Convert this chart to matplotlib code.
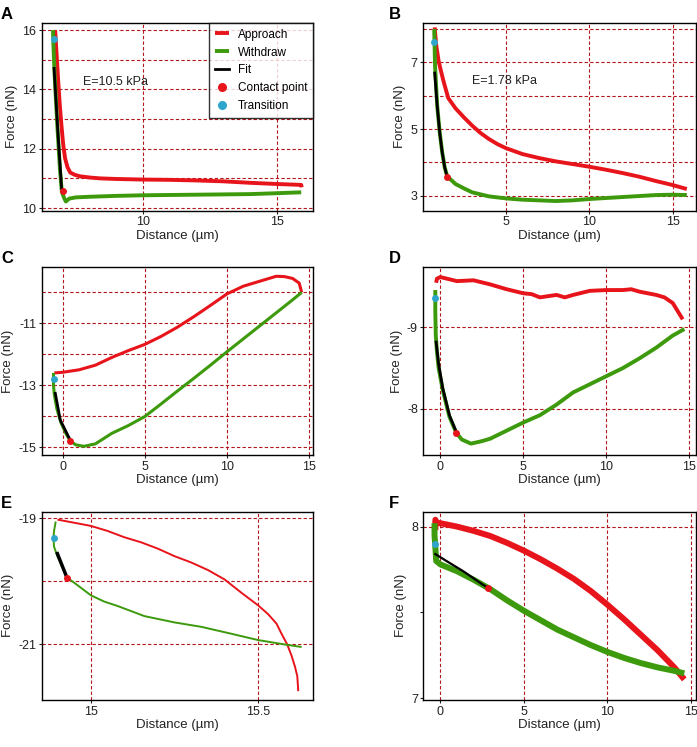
import numpy as np
import matplotlib
matplotlib.use("Agg")
import matplotlib.pyplot as plt

plt.rcParams['font.family'] = ['Liberation Sans', 'DejaVu Sans']

RED = '#e8141b'
GREEN = '#3c9a0c'
CYAN = '#2ea6cc'
GRID = '#b3161b'

# ---- panel A ----
a_app_x = [6.72, 6.78, 6.84, 6.90, 6.96, 7.02, 7.09, 7.18, 7.28, 7.45, 7.65, 8.0, 8.4, 9.0, 10.0,
           11.0, 12.0, 13.0, 14.0, 15.0, 15.6, 15.9, 15.92]
a_app_y = [16.0, 15.1, 14.2, 13.4, 12.74, 12.15, 11.68, 11.38, 11.2, 11.12, 11.07, 11.03, 11.0,
           10.98, 10.96, 10.95, 10.93, 10.9, 10.85, 10.81, 10.79, 10.78, 10.7]
a_wd_x = [6.64, 6.66, 6.70, 6.80, 6.90, 6.97, 7.05, 7.12, 7.25, 7.5, 8.0, 9.0, 10.0, 11.0, 12.0,
          13.0, 14.0, 15.0, 15.9]
a_wd_y = [16.0, 15.4, 14.5, 12.8, 11.3, 10.55, 10.35, 10.22, 10.32, 10.36, 10.38, 10.41, 10.43,
          10.44, 10.45, 10.46, 10.47, 10.5, 10.53]
a_fit_x = [6.68, 6.82, 6.96]
a_fit_y = [14.71, 12.6, 10.67]
a_contact = (7.0, 10.56)
a_trans = (6.68, 15.71)

# ---- panel B ----
b_app_x = [0.75, 0.8, 0.85, 1.0, 1.26, 1.56, 2.0, 2.5, 3.0, 3.5, 4.0, 4.5, 5.0, 6.0, 7.0, 8.0,
           9.0, 10.0, 11.0, 12.0, 13.0, 14.0, 15.0, 15.85]
b_app_y = [8.05, 7.75, 7.48, 7.0, 6.47, 5.93, 5.62, 5.35, 5.1, 4.88, 4.7, 4.55, 4.43, 4.25, 4.13,
           4.03, 3.95, 3.87, 3.78, 3.68, 3.57, 3.44, 3.32, 3.2]
b_wd_x = [0.72, 0.74, 0.77, 0.9, 1.05, 1.2, 1.35, 1.5, 2.0, 2.5, 3.0, 4.0, 5.0, 6.0, 7.0, 8.0,
          9.0, 10.0, 11.0, 12.0, 13.0, 14.0, 15.0, 15.85]
b_wd_y = [8.0, 7.6, 6.9, 5.7, 4.9, 4.3, 3.85, 3.58, 3.35, 3.22, 3.1, 2.98, 2.92, 2.88, 2.86, 2.84,
          2.86, 2.9, 2.93, 2.96, 2.99, 3.02, 3.03, 3.02]
b_fit_x = [0.75, 0.9, 1.05, 1.2, 1.35, 1.48]
b_fit_y = [6.68, 5.7, 4.9, 4.3, 3.85, 3.6]
b_contact = (1.5, 3.56)
b_trans = (0.7, 7.62)

# ---- panel C ----
c_app_x = [-0.5, 0.0, 1.0, 2.0, 3.0, 4.0, 5.0, 6.0, 7.0, 8.0, 9.0, 10.0, 11.0, 12.0, 13.0, 13.5,
           14.0, 14.4, 14.55]
c_app_y = [-12.6, -12.58, -12.5, -12.35, -12.1, -11.88, -11.68, -11.42, -11.12, -10.78, -10.42,
           -10.05, -9.8, -9.64, -9.48, -9.49, -9.55, -9.7, -10.0]
c_wd_x = [14.55, 14.0, 13.0, 12.0, 11.0, 10.0, 9.0, 8.0, 7.0, 6.0, 5.0, 4.0, 3.0, 2.0, 1.3, 0.8,
          0.47, 0.2, -0.1, -0.35, -0.5, -0.55, -0.55]
c_wd_y = [-10.0, -10.24, -10.66, -11.08, -11.5, -11.92, -12.35, -12.77, -13.18, -13.6, -14.01,
          -14.3, -14.55, -14.89, -14.97, -14.92, -14.8, -14.55, -14.2, -13.75, -13.3, -13.0, -12.6]
c_fit_x = [-0.44, -0.14, 0.42]
c_fit_y = [-13.26, -14.12, -14.72]
c_contact = (0.47, -14.8)
c_trans = (-0.49, -12.81)

# ---- panel D ----
d_app_x = [-0.25, -0.2, 0.0, 1.0, 2.0, 3.0, 4.0, 5.0, 5.5, 6.0, 7.0, 7.5, 8.0, 9.0, 10.0, 11.0,
           11.5, 12.0, 13.0, 13.5, 14.0, 14.3, 14.6]
d_app_y = [-9.55, -9.6, -9.62, -9.57, -9.58, -9.53, -9.47, -9.42, -9.41, -9.37, -9.4, -9.37,
           -9.4, -9.45, -9.46, -9.46, -9.47, -9.44, -9.4, -9.37, -9.3, -9.2, -9.1]
d_wd_x = [-0.3, -0.3, -0.27, -0.2, -0.1, 0.15, 0.55, 0.97, 1.3, 1.85, 2.5, 3.0, 4.0, 5.0, 6.0,
          7.0, 8.0, 9.0, 10.0, 11.0, 12.0, 13.0, 14.0, 14.7]
d_wd_y = [-9.46, -9.2, -8.9, -8.7, -8.5, -8.23, -7.9, -7.7, -7.62, -7.57, -7.6, -7.63, -7.73,
          -7.83, -7.92, -8.05, -8.2, -8.3, -8.4, -8.5, -8.62, -8.75, -8.9, -8.98]
d_fit_x = [-0.25, -0.1, 0.15, 0.55, 0.95]
d_fit_y = [-8.82, -8.55, -8.25, -7.92, -7.72]
d_contact = (0.97, -7.7)
d_trans = (-0.3, -9.36)

# ---- panel E ----
e_app_x = [14.9, 14.95, 15.0, 15.05, 15.1, 15.15, 15.2, 15.25, 15.3, 15.35, 15.4, 15.45, 15.5,
           15.53, 15.555, 15.57, 15.587, 15.6, 15.61, 15.617, 15.62]
e_app_y = [-19.02, -19.07, -19.12, -19.2, -19.3, -19.38, -19.48, -19.6, -19.7, -19.82, -19.97,
           -20.18, -20.38, -20.52, -20.67, -20.83, -21.0, -21.18, -21.35, -21.5, -21.74]
e_wd_x = [14.895, 14.89, 14.888, 14.89, 14.9, 14.915, 14.929, 14.95, 14.97, 15.0, 15.04, 15.08,
          15.16, 15.25, 15.33, 15.42, 15.5, 15.58, 15.63]
e_wd_y = [-19.05, -19.2, -19.31, -19.45, -19.6, -19.78, -19.94, -20.02, -20.1, -20.22, -20.32,
          -20.39, -20.55, -20.65, -20.72, -20.83, -20.93, -21.0, -21.04]
e_fit_x = [14.9, 14.927]
e_fit_y = [-19.56, -19.92]
e_contact = (14.929, -19.94)
e_trans = (14.889, -19.31)

# ---- panel F ----
f_app_x = [-0.3, -0.3, -0.2, 0.0, 1.0, 2.0, 3.0, 4.0, 5.0, 6.0, 7.0, 8.0, 9.0, 10.0, 11.0, 12.0,
           13.0, 14.0, 14.6]
f_app_y = [7.98, 8.04, 8.02, 8.02, 8.0, 7.975, 7.945, 7.905, 7.86, 7.81, 7.755, 7.695, 7.625,
           7.545, 7.46, 7.37, 7.28, 7.18, 7.11]
f_wd_x = [-0.35, -0.35, -0.3, -0.25, 0.0, 1.0, 2.0, 3.0, 4.0, 5.0, 6.0, 7.0, 8.0, 9.0,
          10.0, 11.0, 12.0, 13.0, 14.0, 14.6]
f_wd_y = [8.02, 7.95, 7.88, 7.8, 7.78, 7.74, 7.69, 7.635, 7.57, 7.51, 7.455, 7.4, 7.355, 7.31,
          7.27, 7.235, 7.205, 7.18, 7.16, 7.145]
f_fit_x = [-0.3, 0.36, 1.37, 2.57, 2.85]
f_fit_y = [7.84, 7.8, 7.74, 7.66, 7.645]
f_contact = (2.88, 7.645)
f_trans = (-0.3, 7.9)

W, H = 697, 747
fig = plt.figure(figsize=(W / 100, H / 100), dpi=100)


def make_ax(left, top, right, bottom):
    return fig.add_axes([left / W, 1 - bottom / H, (right - left) / W, (bottom - top) / H])


def panel(ax, letter, letter_x, app, wd, fit, contact, trans, lw, xlim, ylim, xticks, xlabels,
          yticks, ylabels, hgrid, vgrid, fit_lw=2.0, ms=5):
    for g in hgrid:
        ax.axhline(g, color=GRID, lw=0.8, ls=(0, (3, 2)), zorder=1)
    for g in vgrid:
        ax.axvline(g, color=GRID, lw=0.8, ls=(0, (3, 2)), zorder=1)
    ax.plot(app[0], app[1], color=RED, lw=lw, solid_capstyle='butt', solid_joinstyle='round',
            zorder=3, label='Approach')
    ax.plot(wd[0], wd[1], color=GREEN, lw=lw, solid_capstyle='butt', solid_joinstyle='round',
            zorder=3, label='Withdraw')
    ax.plot(fit[0], fit[1], color='black', lw=fit_lw, zorder=4, label='Fit')
    ax.plot([contact[0]], [contact[1]], 'o', color=RED, ms=ms, mec='none', zorder=5,
            label='Contact point')
    ax.plot([trans[0]], [trans[1]], 'o', color=CYAN, ms=ms, mec='none', zorder=5,
            label='Transition')
    ax.set_xlim(*xlim)
    ax.set_ylim(*ylim)
    ax.set_xticks(xticks)
    ax.set_xticklabels(xlabels)
    ax.set_yticks(yticks)
    ax.set_yticklabels(ylabels)
    ax.tick_params(length=2, width=0.8, labelsize=9, pad=2, colors='#222222')
    for s in ax.spines.values():
        s.set_linewidth(1.0)
        s.set_color('black')
    ax.set_xlabel('Distance (µm)', fontsize=9.5, labelpad=1, color='#222222')
    ax.set_ylabel('Force (nN)', fontsize=9.5, labelpad=3, color='#222222')
    pos = ax.get_position()
    fig.text(letter_x / W, pos.y1 + 1 / H, letter, fontsize=12, fontweight='bold',
             ha='left', va='bottom')


axA = make_ax(42, 22.7, 313, 210.7)
panel(axA, 'A', 1, (a_app_x, a_app_y), (a_wd_x, a_wd_y), (a_fit_x, a_fit_y), a_contact, a_trans,
      2.8, (6.23, 16.34), (9.91, 16.25), [10, 15], ['10', '15'],
      [10, 12, 14, 16], ['10', '12', '14', '16'], [10, 11, 12, 13, 14, 15, 16], [10, 15])
axA.text(7.76, 14.25, 'E=10.5 kPa', fontsize=9, color='#222222', va='center')
leg = axA.legend(loc='upper right', fontsize=8.5, frameon=True, fancybox=False,
                 borderaxespad=0, handlelength=1.2, handletextpad=0.7, labelspacing=0.5,
                 borderpad=0.5, markerscale=1.3)
leg.get_frame().set_edgecolor('black')
leg.get_frame().set_linewidth(1.0)
leg.set_zorder(10)

axB = make_ax(423, 22.7, 696, 210.7)
panel(axB, 'B', 389, (b_app_x, b_app_y), (b_wd_x, b_wd_y), (b_fit_x, b_fit_y), b_contact,
      b_trans, 2.8, (0.05, 16.4), (2.55, 8.19), [5, 10, 15], ['5', '10', '15'],
      [3, 5, 7], ['3', '5', '7'], [3, 4, 5, 6, 7, 8], [5, 10, 15])
axB.text(2.96, 6.43, 'E=1.78 kPa', fontsize=9, color='#222222', va='center')

axC = make_ax(42, 267.3, 313, 455)
panel(axC, 'C', 1, (c_app_x, c_app_y), (c_wd_x, c_wd_y), (c_fit_x, c_fit_y), c_contact,
      c_trans, 2.2, (-1.25, 15.24), (-15.25, -9.19), [0, 5, 10, 15], ['0', '5', '10', '15'],
      [-15, -13, -11], ['-15', '-13', '-11'], [-10, -11, -12, -13, -14, -15], [0, 5, 10, 15])

axD = make_ax(423.5, 267.3, 696, 455)
panel(axD, 'D', 389, (d_app_x, d_app_y), (d_wd_x, d_wd_y), (d_fit_x, d_fit_y), d_contact,
      d_trans, 2.8, (-1.01, 15.4), (-7.43, -9.74), [0, 5, 10, 15], ['0', '5', '10', '15'],
      [-9, -8], ['-9', '-8'], [-9, -8], [0, 5, 10, 15])

axE = make_ax(42, 511.7, 313, 700)
panel(axE, 'E', 1, (e_app_x, e_app_y), (e_wd_x, e_wd_y), (e_fit_x, e_fit_y), e_contact,
      e_trans, 1.4, (14.854, 15.664), (-21.88, -18.895), [15, 15.5], ['15', '15.5'],
      [-21, -19], ['-21', '-19'], [-19, -20, -21], [15, 15.5], fit_lw=2.5)

axF = make_ax(423.5, 511.7, 696, 700)
panel(axF, 'F', 389, (f_app_x, f_app_y), (f_wd_x, f_wd_y), (f_fit_x, f_fit_y), f_contact,
      f_trans, 4.3, (-1.01, 15.3), (6.99, 8.087), [0, 5, 10, 15], ['0', '5', '10', '15'],
      [7, 7.5, 8], ['7', '', '8'], [8], [0, 5, 10, 15], fit_lw=1.6)

fig.savefig('out.png', dpi=100)
